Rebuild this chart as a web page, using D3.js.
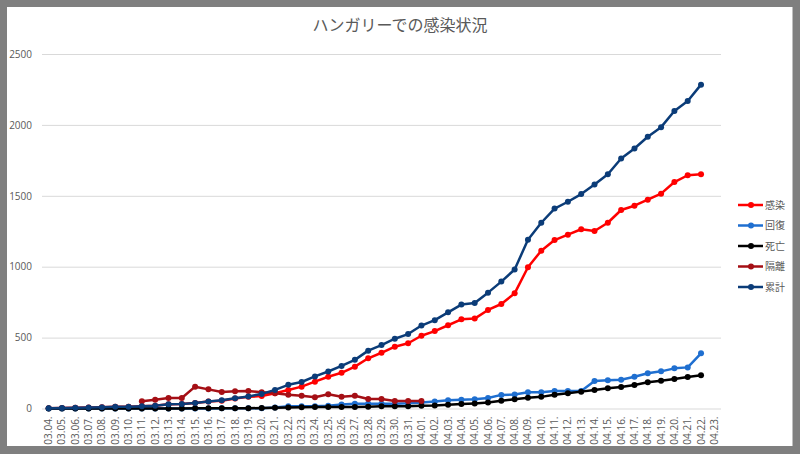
<!DOCTYPE html>
<html>
<head>
<meta charset="utf-8">
<script src="https://cdn.jsdelivr.net/npm/d3@7"></script>
<style>
html,body{margin:0;padding:0;background:#7f7f7f;}
svg{display:block;}
text{font-family:"Noto Sans CJK JP","Noto Sans",sans-serif;}
</style>
</head>
<body>
<svg id="chart" width="800" height="454"></svg>
<script>
const categories = ["03.04.","03.05.","03.06.","03.07.","03.08.","03.09.","03.10.","03.11.","03.12.","03.13.","03.14.","03.15.","03.16.","03.17.","03.18.","03.19.","03.20.","03.21.","03.22.","03.23.","03.24.","03.25.","03.26.","03.27.","03.28.","03.29.","03.30.","03.31.","04.01.","04.02.","04.03.","04.04.","04.05.","04.06.","04.07.","04.08.","04.09.","04.10.","04.11.","04.12.","04.13.","04.14.","04.15.","04.16.","04.17.","04.18.","04.19.","04.20.","04.21.","04.22.","04.23."];

const infected = [2,4,5,7,9,12,13,16,19,30,32,38,49,55,70,82,88,107,130,154,189,224,252,295,354,393,436,460,513,546,587,629,634,695,737,812,996,1113,1188,1226,1264,1252,1310,1400,1430,1473,1515,1597,1645,1652,null];
const recovered = [0,0,0,0,0,0,0,0,0,0,0,0,0,2,2,2,2,7,16,16,16,20,28,34,34,34,34,37,43,49,58,62,65,74,96,98,114,115,123,123,124,194,199,203,224,248,262,283,290,389,null];
const deaths = [0,0,0,0,0,0,0,0,0,0,0,1,1,1,1,1,4,6,7,9,10,10,10,11,13,15,15,16,20,21,26,32,36,42,55,65,76,82,97,107,119,130,142,152,166,185,196,208,222,234,null];
const isolated = [null,null,null,null,null,null,null,51,62,74,74,154,135,116,121,123,115,107,97,90,79,100,83,90,67,67,53,53,53,null,null,null,null,null,null,null,null,null,null,null,null,null,null,null,null,null,null,null,null,null,null];
const total = [2,4,5,7,9,12,13,16,19,30,32,39,50,58,73,85,103,131,167,187,226,261,300,343,408,447,492,525,585,623,678,733,744,817,895,980,1190,1310,1410,1458,1512,1579,1652,1763,1834,1916,1984,2098,2168,2284,null];

const seriesNames = ["感染","回復","死亡","隔離","累計"];
const seriesColors = ["#ff0000","#1f6fd0","#000000","#a50f15","#0b3c78"];
const yTicks = [0,500,1000,1500,2000,2500];
const titleText = "ハンガリーでの感染状況";

const seriesData = [infected, recovered, deaths, isolated, total];

const svg = d3.select("#chart");
// white panel
svg.append("rect").attr("x",7).attr("y",7).attr("width",785).attr("height",439).attr("fill","#ffffff");
svg.append("line").attr("x1",792.5).attr("x2",792.5).attr("y1",7).attr("y2",446).attr("stroke","#bfbfbf").attr("stroke-width",1);

const plot = {left:42, right:721, top:54, bottom:408.5};

const x = d3.scaleBand().domain(categories).range([plot.left, plot.right]).padding(0);
const y = d3.scaleLinear().domain([0,2500]).range([plot.bottom, plot.top]);

// title
svg.append("text").attr("x",400).attr("y",31).attr("text-anchor","middle")
  .attr("font-size",16).attr("fill","#595959").text(titleText);

// gridlines + y labels
const yAxis = d3.axisLeft(y).tickValues(yTicks).tickSize(-(plot.right-plot.left)).tickPadding(10).tickFormat(d3.format("d"));
const gy = svg.append("g").attr("transform",`translate(${plot.left},0)`).call(yAxis);
gy.select(".domain").remove();
gy.selectAll(".tick line").attr("stroke","#d9d9d9").attr("stroke-width",1);
gy.selectAll(".tick text").attr("fill","#595959").attr("font-size",10)
  .attr("x",-10).style("font-family","'Open Sans','Noto Sans',sans-serif");

// x labels
const xAxis = d3.axisBottom(x).tickSize(0).tickPadding(0);
const gx = svg.append("g").attr("transform",`translate(0,${plot.bottom})`).call(xAxis);
gx.select(".domain").remove();
gx.selectAll(".tick text")
  .attr("fill","#595959").attr("font-size",10)
  .style("font-family","'Open Sans','Noto Sans',sans-serif")
  .attr("text-anchor","end").attr("dy","0.35em").attr("y",0).attr("x",0)
  .attr("transform","translate(0,8) rotate(-90)");

// series
const line = d3.line()
  .defined(d => d.v !== null)
  .x(d => x(d.c) + x.bandwidth()/2)
  .y(d => y(d.v));

seriesData.forEach((vals, si) => {
  const pts = categories.map((c,i) => ({c, v: vals[i] === undefined ? null : vals[i]}));
  const g = svg.append("g");
  g.append("path").datum(pts).attr("d", line).attr("fill","none")
    .attr("stroke", seriesColors[si]).attr("stroke-width",2.5).attr("stroke-linejoin","round");
  g.selectAll("circle").data(pts.filter(d => d.v !== null)).join("circle")
    .attr("cx", d => x(d.c) + x.bandwidth()/2).attr("cy", d => y(d.v)).attr("r",3)
    .attr("fill", seriesColors[si]);
});

// legend
const legend = svg.append("g");
seriesNames.forEach((n, i) => {
  const ly = 205 + i*20.5;
  legend.append("line").attr("x1",738).attr("x2",763).attr("y1",ly).attr("y2",ly)
    .attr("stroke",seriesColors[i]).attr("stroke-width",2.5);
  legend.append("circle").attr("cx",751).attr("cy",ly).attr("r",3).attr("fill",seriesColors[i]);
  legend.append("text").attr("x",765).attr("y",ly).attr("dy","0.35em")
    .attr("font-size",10).attr("fill","#595959").text(n);
});
</script>
</body>
</html>
